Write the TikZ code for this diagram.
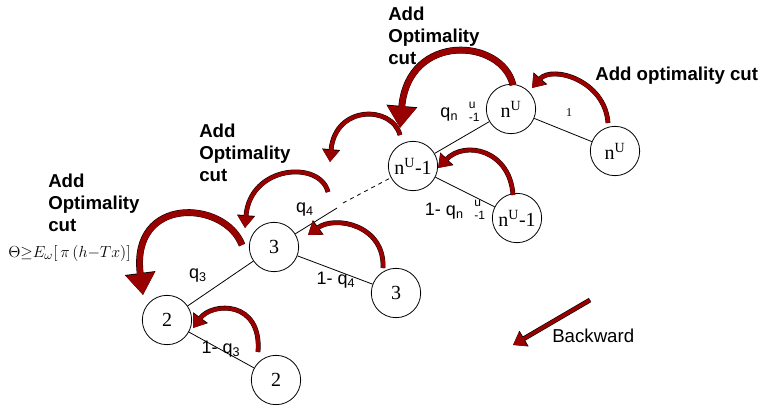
\documentclass[tikz,border=0pt]{standalone}
\usepackage{fontspec}
\setmainfont{Liberation Serif}
\setsansfont{Liberation Sans}
\usepackage{tikz}
\usetikzlibrary{arrows.meta, positioning}
\definecolor{cutred}{RGB}{153,0,0}
\newcommand{\qnu}{q\textsubscript{n}\hspace{8pt}\rlap{\raisebox{7pt}{\fontsize{9}{10}\selectfont u}}\raisebox{-3pt}{\fontsize{9}{10}\selectfont -1}}

\begin{document}
\begin{tikzpicture}[
    x=0.75pt, y=-0.75pt,
    stage/.style={circle, draw=black, line width=0.6pt, fill=white, minimum size=37pt, inner sep=0pt, font=\rmfamily\fontsize{15}{18}\selectfont},
    edgelabel/.style={font=\sffamily\fontsize{13.5}{15}\selectfont, inner sep=0pt},
    cuttext/.style={anchor=north west, align=left, inner sep=0pt, font=\sffamily\bfseries\fontsize{14}{16.5}\selectfont},
    cutarrow/.style={draw=cutred, line width=3pt, -{Triangle[length=9pt, width=12pt]},
        preaction={draw=black, line width=3.6pt, -{Triangle[length=9.6pt, width=13pt]}}},
    bigcutarrow/.style={draw=cutred, line width=4.5pt, -{Triangle[length=16pt, width=21pt]},
        preaction={draw=black, line width=5.1pt, -{Triangle[length=16.6pt, width=22pt]}}},
    tree/.style={draw=black, line width=0.6pt},
]
\useasboundingbox (0,0) rectangle (764,404);

% Scenario tree
\node[stage] (n2a) at (167,320) {2};
\node[stage] (n2b) at (276,380) {2};
\node[stage] (n3a) at (274,247) {3};
\node[stage] (n3b) at (396,293) {3};
\node[stage] (nm1a) at (413,166) {n\textsuperscript{U}-1};
\node[stage] (nm1b) at (517,218) {n\textsuperscript{U}-1};
\node[stage] (nUa) at (511,109) {n\textsuperscript{U}};
\node[stage] (nUb) at (615,151) {n\textsuperscript{U}};

% Gap in the q4 branch
\coordinate (gapA) at (337,208);
\coordinate (gapB) at (343,203);

% Branches
\draw[tree] (n2a) -- (n2b);
\draw[tree] (n2a) -- (n3a);
\draw[tree] (n3a) -- (n3b);
\draw[tree] (n3a) -- (gapA);
\draw[tree, dashed] (gapB) -- (nm1a);
\draw[tree] (nm1a) -- (nm1b);
\draw[tree] (nm1a) -- (nUa);
\draw[tree] (nUa) -- (nUb);

% Branch probabilities
\node[edgelabel] (pq3) at (198,276) {q\textsubscript{3}};
\node[edgelabel] (pq3c) at (221,349) {1- q\textsubscript{3}};
\node[edgelabel] (pq4) at (305,210) {q\textsubscript{4}};
\node[edgelabel] (pq4c) at (336,280) {1- q\textsubscript{4}};
\node[edgelabel] (pqn) at (460,112) {\qnu};
\node[edgelabel] (pqnc) at (455,210) {1- \qnu};
\node[font=\rmfamily\fontsize{9}{10}\selectfont, inner sep=0pt] (p1) at (569,113) {1};

% Optimality cuts passed backward
\draw[cutarrow] (258,352) .. controls (262,300) and (212,302) .. (193,328);
\draw[cutarrow] (383,268) .. controls (385,225) and (335,215) .. (308,235);
\draw[bigcutarrow] (242,245) .. controls (225,200) and (130,195) .. (143,295);
\draw[cutarrow] (328,192) .. controls (320,160) and (250,165) .. (245,228);
\draw[cutarrow] (400,135) .. controls (392,105) and (335,105) .. (330,162);
\draw[bigcutarrow] (513,85) .. controls (502,38) and (408,32) .. (400,128);
\draw[cutarrow] (513,195) .. controls (510,150) and (465,140) .. (438,168);
\draw[cutarrow] (608,123) .. controls (605,80) and (552,65) .. (532,88);

% Labels
\node[cuttext] (cutTop) at (388,7) {Add\\Optimality\\cut};
\node[cuttext] (cutMid) at (199,124) {Add\\Optimality\\cut};
\node[cuttext] (cutLeft) at (48,174) {Add\\Optimality\\cut};
\node[cuttext] (cutRight) at (595,67) {Add optimality cut};
\node[inner sep=0pt, anchor=west, font=\fontsize{12.5}{15}\selectfont] (formula) at (8,253) {$\Theta{\geq}E_{\omega}[\,\pi\,(h{-}Tx)]$};

% Direction
\coordinate (bwStart) at (590,300);
\coordinate (bwEnd) at (513,345);
\draw[cutarrow, line width=2.6pt] (bwStart) -- (bwEnd);
\node[font=\sffamily\fontsize{14}{16}\selectfont, anchor=west, inner sep=0pt] (backward) at (552,336) {Backward};

\end{tikzpicture}
\end{document}
